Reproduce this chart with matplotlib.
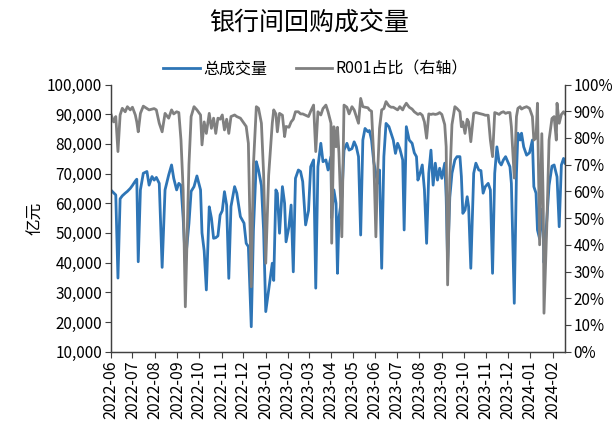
import matplotlib
matplotlib.use('Agg')
import matplotlib.pyplot as plt
import matplotlib.dates as mdates
from matplotlib.ticker import FuncFormatter, MultipleLocator
import pandas as pd

plt.rcParams['font.family'] = ['Noto Sans CJK SC', 'DejaVu Sans']
plt.rcParams['axes.unicode_minus'] = False

# 日期
dates = [
    '2022-06-01', '2022-06-05', '2022-06-08', '2022-06-11', '2022-06-14', '2022-06-17', '2022-06-21', '2022-06-24',
    '2022-06-28', '2022-07-01', '2022-07-05', '2022-07-07', '2022-07-09', '2022-07-12', '2022-07-16', '2022-07-21',
    '2022-07-24', '2022-07-28', '2022-07-31', '2022-08-03', '2022-08-07', '2022-08-11', '2022-08-15', '2022-08-20',
    '2022-08-24', '2022-08-27', '2022-08-31', '2022-09-03', '2022-09-06', '2022-09-09', '2022-09-12', '2022-09-17',
    '2022-09-20', '2022-09-24', '2022-09-28', '2022-10-03', '2022-10-05', '2022-10-08', '2022-10-11', '2022-10-15',
    '2022-10-18', '2022-10-21', '2022-10-24', '2022-10-27', '2022-10-30', '2022-11-02', '2022-11-05', '2022-11-08',
    '2022-11-11', '2022-11-14', '2022-11-19', '2022-11-22', '2022-11-27', '2022-12-02', '2022-12-05', '2022-12-08',
    '2022-12-12', '2022-12-15', '2022-12-19', '2022-12-22', '2022-12-26', '2022-12-29', '2023-01-01', '2023-01-05',
    '2023-01-10', '2023-01-12', '2023-01-15', '2023-01-17', '2023-01-20', '2023-01-24', '2023-01-27', '2023-01-29',
    '2023-02-02', '2023-02-05', '2023-02-08', '2023-02-11', '2023-02-15', '2023-02-18', '2023-02-21', '2023-02-25',
    '2023-03-01', '2023-03-04', '2023-03-08', '2023-03-11', '2023-03-14', '2023-03-18', '2023-03-21', '2023-03-25',
    '2023-03-28', '2023-04-01', '2023-04-02', '2023-04-05', '2023-04-08', '2023-04-10', '2023-04-12', '2023-04-16',
    '2023-04-19', '2023-04-23', '2023-04-26', '2023-04-30', '2023-05-03', '2023-05-06', '2023-05-09', '2023-05-12',
    '2023-05-15', '2023-05-18', '2023-05-22', '2023-05-24', '2023-05-27', '2023-05-30', '2023-06-02', '2023-06-04',
    '2023-06-07', '2023-06-10', '2023-06-13', '2023-06-16', '2023-06-20', '2023-06-23', '2023-06-26', '2023-06-29',
    '2023-07-02', '2023-07-05', '2023-07-09', '2023-07-11', '2023-07-14', '2023-07-18', '2023-07-22', '2023-07-25',
    '2023-07-28', '2023-07-30', '2023-08-02', '2023-08-05', '2023-08-08', '2023-08-11', '2023-08-14', '2023-08-17',
    '2023-08-20', '2023-08-23', '2023-08-26', '2023-08-29', '2023-09-01', '2023-09-05', '2023-09-07', '2023-09-09',
    '2023-09-12', '2023-09-15', '2023-09-19', '2023-09-22', '2023-09-26', '2023-09-28', '2023-09-30', '2023-10-03',
    '2023-10-06', '2023-10-08', '2023-10-11', '2023-10-15', '2023-10-18', '2023-10-22', '2023-10-25', '2023-10-28',
    '2023-10-31', '2023-11-04', '2023-11-07', '2023-11-10', '2023-11-13', '2023-11-16', '2023-11-19', '2023-11-22',
    '2023-11-25', '2023-11-28', '2023-12-01', '2023-12-04', '2023-12-06', '2023-12-10', '2023-12-13', '2023-12-15',
    '2023-12-18', '2023-12-20', '2023-12-23', '2023-12-27', '2023-12-31', '2024-01-04', '2024-01-06', '2024-01-09',
    '2024-01-11', '2024-01-14', '2024-01-17', '2024-01-19', '2024-01-20', '2024-01-24', '2024-01-27', '2024-01-31',
    '2024-02-03', '2024-02-06', '2024-02-07', '2024-02-10', '2024-02-13', '2024-02-16', '2024-02-18',
]

# 总成交量（千亿元 -> 乘1000为亿元）
total_k = [
    64.5, 63.5, 62.8, 34.8, 61.5, 62.5, 63.4, 64.0,
    65.0, 66.0, 67.5, 68.1, 40.3, 64.5, 70.1, 70.7,
    66.1, 69.0, 67.8, 68.7, 66.7, 38.4, 64.5, 69.5,
    72.9, 68.4, 64.5, 66.7, 66.0, 55.0, 40.0, 53.2,
    64.0, 65.6, 69.2, 64.5, 50.0, 44.0, 30.8, 58.8,
    55.0, 48.2, 48.4, 49.0, 56.0, 57.5, 63.9, 59.4,
    34.7, 58.9, 65.6, 63.4, 55.5, 53.3, 46.5, 45.4,
    18.4, 51.0, 74.0, 71.2, 66.0, 51.0, 23.5, 30.8,
    39.8, 34.0, 64.5, 63.4, 49.9, 65.6, 60.0, 47.0,
    52.1, 59.4, 36.9, 68.4, 71.2, 70.7, 67.3, 52.7,
    57.5, 72.3, 74.6, 31.4, 72.3, 80.2, 74.0, 74.6,
    71.2, 75.7, 55.0, 64.5, 60.0, 36.4, 55.0, 62.2,
    77.9, 80.2, 77.9, 78.4, 80.7, 79.0, 75.7, 49.3,
    81.3, 85.2, 84.1, 84.5, 81.3, 74.0, 70.0, 66.7,
    71.2, 38.1, 75.7, 86.9, 85.8, 83.6, 81.3, 76.8,
    80.2, 78.4, 74.6, 51.0, 85.8, 81.3, 80.2, 77.0,
    75.7, 67.8, 70.1, 72.9, 64.5, 46.5, 70.1, 77.9,
    66.1, 73.5, 67.8, 71.8, 68.4, 73.5, 62.0, 40.0,
    62.0, 70.1, 74.6, 75.7, 75.7, 69.0, 56.6, 57.7,
    62.2, 58.8, 38.1, 70.1, 73.5, 71.2, 71.0, 63.4,
    65.6, 66.7, 64.5, 36.4, 70.1, 79.0, 74.0, 72.9,
    74.6, 75.7, 74.0, 72.3, 66.7, 26.3, 70.0, 83.6,
    81.3, 83.6, 79.0, 76.2, 77.0, 81.3, 65.6, 63.4,
    51.0, 48.0, 58.0, 50.0, 40.0, 55.0, 66.0, 72.5,
    72.9, 70.0, 68.9, 52.1, 72.9, 75.1, 73.5,
]

# R001占比（%）
r001_pct = [
    89.2, 86.0, 88.0, 74.9, 88.6, 91.1, 89.8, 91.7,
    90.5, 91.5, 88.6, 86.0, 82.3, 89.2, 91.9, 91.0,
    90.5, 90.8, 91.0, 90.5, 85.5, 82.3, 89.2, 87.4,
    90.5, 89.0, 89.8, 89.5, 79.2, 60.5, 16.8, 70.0,
    88.0, 91.7, 90.5, 88.6, 77.4, 86.0, 81.7, 89.2,
    83.6, 87.4, 81.7, 87.4, 87.0, 88.6, 83.0, 87.0,
    81.7, 88.0, 88.6, 88.0, 87.4, 85.5, 84.3, 78.0,
    24.3, 70.0, 91.7, 91.1, 85.5, 66.8, 33.1, 66.0,
    85.5, 90.5, 89.0, 82.3, 89.2, 88.5, 80.5, 84.3,
    84.0, 86.0, 87.0, 89.8, 89.8, 89.0, 89.0, 88.5,
    88.0, 90.0, 92.3, 74.9, 89.8, 88.6, 91.0, 92.3,
    89.8, 85.5, 40.6, 84.2, 76.7, 84.0, 74.3, 43.0,
    92.3, 91.5, 89.0, 91.7, 90.5, 88.0, 85.5, 94.8,
    91.7, 91.5, 91.3, 90.5, 90.0, 73.0, 43.0, 64.3,
    83.6, 90.5, 91.0, 93.6, 92.0, 91.5, 91.5, 91.0,
    90.5, 91.7, 90.5, 91.7, 93.0, 91.5, 90.8, 89.8,
    89.2, 88.8, 89.2, 88.5, 86.0, 79.9, 89.0, 88.8,
    89.0, 88.8, 89.0, 89.5, 88.8, 85.0, 76.7, 25.0,
    64.3, 85.0, 91.7, 91.0, 89.8, 84.2, 86.0, 81.7,
    87.0, 86.0, 78.6, 89.2, 89.5, 89.2, 89.0, 88.8,
    88.5, 88.5, 79.2, 73.0, 89.5, 89.2, 88.8, 89.5,
    89.8, 89.2, 89.5, 89.5, 84.2, 65.0, 88.0, 91.1,
    91.7, 90.8, 91.3, 91.7, 91.1, 88.0, 79.2, 80.0,
    93.0, 40.0, 81.6, 55.0, 14.4, 48.0, 79.2, 87.3,
    88.0, 79.2, 93.0, 85.5, 88.8, 89.8, 89.0,
]

x = pd.to_datetime(dates)
total = [v * 1000 for v in total_k]
r001 = [v / 100 for v in r001_pct]

fig = plt.figure(figsize=(6.15, 4.23), dpi=100)
ax = fig.add_axes([0.180, 0.1686, 0.7387, 0.6316])
ax2 = ax.twinx()

l1, = ax.plot(x, total, color='#2E75B6', linewidth=2.0, label='总成交量')
l2, = ax2.plot(x, r001, color='#808080', linewidth=2.0, label='R001占比（右轴）')

ax.set_ylim(10000, 100000)
ax.yaxis.set_major_locator(MultipleLocator(10000))
ax.yaxis.set_major_formatter(FuncFormatter(lambda v, p: f'{v:,.0f}'))
ax2.set_ylim(0, 1)
ax2.yaxis.set_major_locator(MultipleLocator(0.1))
ax2.yaxis.set_major_formatter(FuncFormatter(lambda v, p: f'{v:.0%}'))

ax.set_xlim(pd.Timestamp('2022-06-01'), pd.Timestamp('2024-02-18'))
ax.xaxis.set_major_locator(mdates.MonthLocator())
ax.xaxis.set_major_formatter(mdates.DateFormatter('%Y-%m'))
for lab in ax.get_xticklabels():
    lab.set_rotation(90)

for a in (ax, ax2):
    a.spines['top'].set_visible(False)
    for s in ('left', 'right', 'bottom'):
        a.spines[s].set_color('#404040')
        a.spines[s].set_linewidth(0.9)
    a.tick_params(direction='out', length=4, width=0.8, color='#404040', labelsize=11, pad=2)
ax.tick_params(axis='x', labelsize=11.5, pad=2)

ax.set_ylabel('亿元', fontsize=12, labelpad=2)

fig.suptitle('银行间回购成交量', fontsize=18, x=0.503, y=0.978)
fig.legend(handles=[l1, l2], loc='center', bbox_to_anchor=(0.513, 0.836), ncol=2,
           frameon=False, fontsize=11.5, handlelength=2.3, handletextpad=0.2, columnspacing=1.8)

fig.savefig('out.png', dpi=100)
